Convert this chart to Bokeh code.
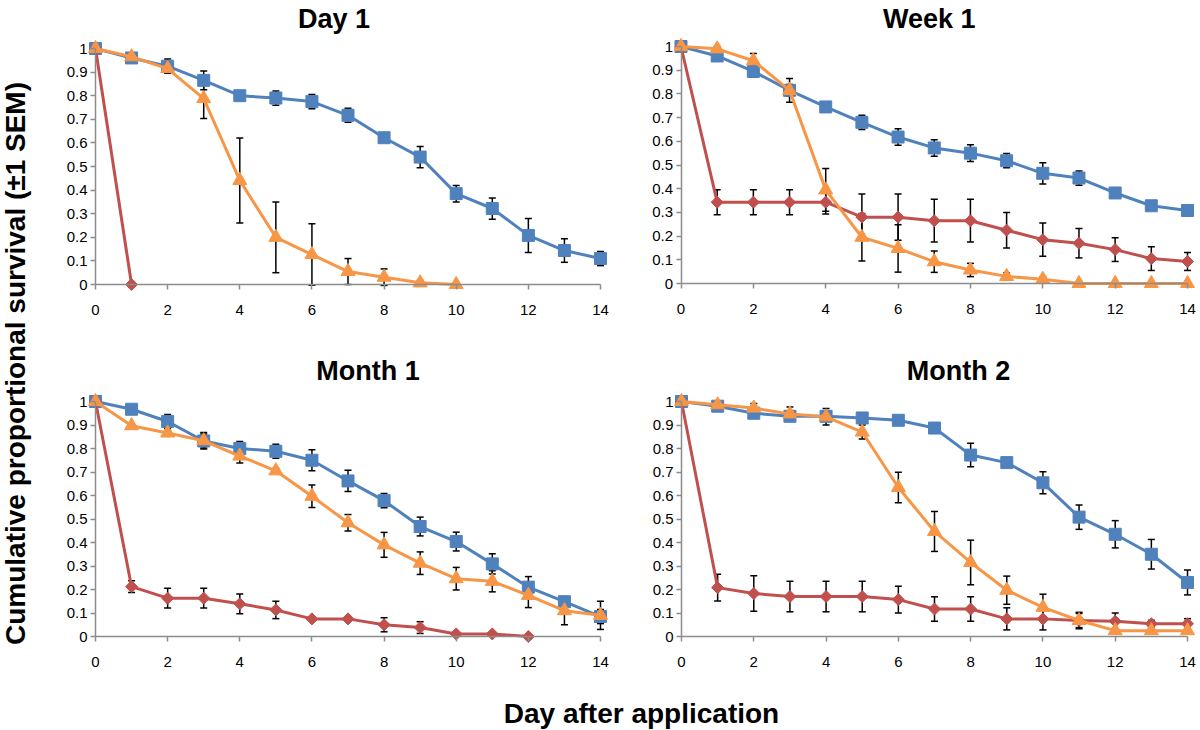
import math
from bokeh.plotting import figure
from bokeh.models import ColumnDataSource, Whisker, TeeHead, FixedTicker, Range1d, Label
from bokeh.layouts import row, column
from bokeh.embed import file_html
from bokeh.resources import INLINE

# ---------------- data ----------------
days = list(range(15))
panel_titles = ["Day 1", "Week 1", "Month 1", "Month 2"]
x_ticks = [0, 2, 4, 6, 8, 10, 12, 14]
y_ticks = [round(i * 0.1, 1) for i in range(11)]

d1_blue = [1.0, 0.96, 0.925, 0.865, 0.80, 0.79, 0.775, 0.717, 0.622, 0.54, 0.385, 0.322, 0.208, 0.144, 0.11]
d1_blue_err = [0, 0.01, 0.03, 0.04, 0.015, 0.03, 0.03, 0.03, 0.015, 0.045, 0.035, 0.045, 0.072, 0.05, 0.03]
d1_red_days = [0, 1]
d1_red = [1.0, 0.0]
d1_red_err = [0, 0]
d1_orange_days = list(range(11))
d1_orange = [1.0, 0.965, 0.915, 0.788, 0.441, 0.20, 0.127, 0.055, 0.031, 0.007, 0.0]
d1_orange_err = [0, 0.01, 0.015, 0.085, 0.18, 0.15, 0.13, 0.055, 0.035, 0.01, 0]

w1_blue = [1.0, 0.96, 0.895, 0.815, 0.745, 0.68, 0.618, 0.572, 0.55, 0.518, 0.465, 0.445, 0.382, 0.328, 0.308]
w1_blue_err = [0, 0.01, 0.025, 0.025, 0.01, 0.03, 0.035, 0.035, 0.035, 0.03, 0.045, 0.03, 0.015, 0.015, 0.015]
w1_red = [1.0, 0.343, 0.343, 0.343, 0.343, 0.28, 0.28, 0.265, 0.265, 0.225, 0.185, 0.17, 0.143, 0.105, 0.093]
w1_red_err = [0, 0.053, 0.053, 0.053, 0.05, 0.098, 0.098, 0.09, 0.09, 0.075, 0.07, 0.062, 0.05, 0.05, 0.038]
w1_orange = [1.0, 0.99, 0.94, 0.815, 0.395, 0.195, 0.148, 0.092, 0.057, 0.03, 0.018, 0, 0, 0, 0]
w1_orange_err = [0, 0.01, 0.03, 0.05, 0.09, 0.1, 0.1, 0.045, 0.028, 0.015, 0.01, 0, 0, 0, 0]

m1_blue = [1.0, 0.967, 0.915, 0.832, 0.80, 0.788, 0.75, 0.662, 0.578, 0.468, 0.404, 0.309, 0.21, 0.148, 0.085]
m1_blue_err = [0, 0.01, 0.03, 0.03, 0.03, 0.03, 0.045, 0.045, 0.03, 0.04, 0.04, 0.043, 0.045, 0.02, 0.03]
m1_red_days = list(range(13))
m1_red = [1.0, 0.212, 0.163, 0.163, 0.139, 0.113, 0.075, 0.075, 0.05, 0.038, 0.011, 0.011, 0.0]
m1_red_err = [0, 0.025, 0.042, 0.042, 0.042, 0.037, 0.008, 0.008, 0.03, 0.025, 0.005, 0.005, 0]
m1_orange = [1.0, 0.897, 0.866, 0.833, 0.768, 0.705, 0.597, 0.484, 0.39, 0.312, 0.246, 0.235, 0.175, 0.11, 0.09]
m1_orange_err = [0, 0.005, 0.01, 0.035, 0.03, 0.01, 0.048, 0.035, 0.053, 0.048, 0.048, 0.045, 0.052, 0.06, 0.06]

m2_blue = [1.0, 0.98, 0.95, 0.937, 0.937, 0.93, 0.92, 0.887, 0.772, 0.74, 0.654, 0.508, 0.435, 0.35, 0.23]
m2_blue_err = [0, 0.01, 0.015, 0.015, 0.02, 0.015, 0.015, 0.01, 0.05, 0.02, 0.047, 0.052, 0.058, 0.063, 0.053]
m2_red = [1.0, 0.208, 0.183, 0.17, 0.17, 0.17, 0.157, 0.117, 0.117, 0.075, 0.075, 0.068, 0.065, 0.054, 0.054]
m2_red_err = [0, 0.057, 0.076, 0.065, 0.065, 0.065, 0.057, 0.052, 0.052, 0.047, 0.047, 0.03, 0.035, 0.015, 0.022]
m2_orange = [1.0, 0.986, 0.972, 0.947, 0.935, 0.87, 0.634, 0.447, 0.315, 0.197, 0.124, 0.068, 0.025, 0.025, 0.025]
m2_orange_err = [0, 0.01, 0.02, 0.03, 0.035, 0.03, 0.065, 0.085, 0.095, 0.06, 0.056, 0.035, 0.005, 0.005, 0.005]

y_title = "Cumulative proportional survival (\u00b11 SEM)"
x_title = "Day after application"

# ---------------- style ----------------
BLUE = "#4F81BD"
RED = "#C0504D"
ORANGE = "#F79646"
AXIS = "#8C8C8C"
FONT = "Liberation Sans"


def add_series(p, x, y, err, color, marker, size, angle=0.0):
    src = ColumnDataSource(dict(x=x, y=y))
    ex = [a for a, e in zip(x, err) if e > 0]
    lo = [v - e for v, e in zip(y, err) if e > 0]
    hi = [v + e for v, e in zip(y, err) if e > 0]
    if ex:
        esrc = ColumnDataSource(dict(x=ex, lo=lo, hi=hi))
        w = Whisker(source=esrc, base="x", lower="lo", upper="hi",
                    line_color="black", line_width=1.5, level="underlay",
                    lower_head=TeeHead(size=7, line_color="black", line_width=1.5),
                    upper_head=TeeHead(size=7, line_color="black", line_width=1.5))
        p.add_layout(w)
    p.line("x", "y", source=src, line_color=color, line_width=3)
    p.scatter("x", "y", source=src, marker=marker, size=size, angle=angle,
              fill_color=color, line_color=color)


def make_panel(title, canvas_left, canvas_top, cw, ch, x0px, x14px, y1px, y0px, title_cy, title_dx):
    # the frame fills the whole canvas; axes are pinned at x=0 / y=0
    kx = (x14px - x0px) / 14.0
    ky = (y0px - y1px) / 1.0
    x_start = -(x0px - canvas_left) / kx
    x_end = 14 + (canvas_left + cw - x14px) / kx
    y_top = 1 + (y1px - canvas_top) / ky
    y_bot = -(canvas_top + ch - y0px) / ky
    p = figure(width=cw, height=ch, x_range=Range1d(x_start, x_end), y_range=Range1d(y_bot, y_top),
               min_border_left=0, min_border_right=0, min_border_top=0, min_border_bottom=0,
               toolbar_location=None, output_backend="svg")
    p.outline_line_color = None
    p.grid.visible = False
    for ax in (p.xaxis[0], p.yaxis[0]):
        ax.fixed_location = 0
        ax.axis_line_color = AXIS
        ax.axis_line_width = 1.5
        ax.major_tick_line_color = AXIS
        ax.major_tick_line_width = 1.5
        ax.major_tick_in = 0
        ax.major_tick_out = 5
        ax.minor_tick_line_color = None
        ax.major_label_text_font = FONT
        ax.major_label_text_font_size = "15px"
        ax.major_label_text_color = "black"
    p.xaxis[0].bounds = (0, 14)
    p.xaxis[0].ticker = FixedTicker(ticks=x_ticks)
    p.xaxis[0].major_label_standoff = 15
    p.yaxis[0].bounds = (0, 1)
    p.yaxis[0].ticker = FixedTicker(ticks=y_ticks)
    p.yaxis[0].major_label_standoff = 3
    p.yaxis[0].major_label_overrides = {0: "0", 1: "1"}
    p.add_layout(Label(x=7, y=1 + (y1px - title_cy) / ky, x_offset=title_dx, text=title,
                       text_align="center", text_baseline="middle",
                       text_font=FONT, text_font_style="bold",
                       text_font_size="27px", text_color="black"))
    return p


# page coordinates (the page has no margin): 1200 x 730
p1 = make_panel(panel_titles[0], 48, 0, 582, 340, 95, 600, 48, 284, 18, -14)
add_series(p1, days, d1_blue, d1_blue_err, BLUE, "square", 12)
add_series(p1, d1_red_days, d1_red, d1_red_err, RED, "square", 8.5, math.pi / 4)
add_series(p1, d1_orange_days, d1_orange, d1_orange_err, ORANGE, "triangle", 14)

p2 = make_panel(panel_titles[1], 630, 0, 570, 340, 680.5, 1187, 46, 283, 18, -5)
add_series(p2, days, w1_blue, w1_blue_err, BLUE, "square", 12)
add_series(p2, days, w1_red, w1_red_err, RED, "square", 8.5, math.pi / 4)
add_series(p2, days, w1_orange, w1_orange_err, ORANGE, "triangle", 14)

p3 = make_panel(panel_titles[2], 48, 340, 582, 348, 95, 600, 401, 636, 370, 20)
add_series(p3, days, m1_blue, m1_blue_err, BLUE, "square", 12)
add_series(p3, m1_red_days, m1_red, m1_red_err, RED, "square", 8.5, math.pi / 4)
add_series(p3, days, m1_orange, m1_orange_err, ORANGE, "triangle", 14)

p4 = make_panel(panel_titles[3], 630, 340, 570, 348, 681, 1187, 401, 636, 370, 24)
add_series(p4, days, m2_blue, m2_blue_err, BLUE, "square", 12)
add_series(p4, days, m2_red, m2_red_err, RED, "square", 8.5, math.pi / 4)
add_series(p4, days, m2_orange, m2_orange_err, ORANGE, "triangle", 14)

# y axis title
yf = figure(width=48, height=688, x_range=Range1d(0, 48), y_range=Range1d(0, 688),
            x_axis_type=None, y_axis_type=None, min_border=0,
            toolbar_location=None, output_backend="svg")
yf.outline_line_color = None
yf.grid.visible = False
yf.add_layout(Label(x=15, y=688 - 363, text=y_title, angle=math.pi / 2,
                    text_align="center", text_baseline="middle",
                    text_font=FONT, text_font_style="bold",
                    text_font_size="28px", text_color="black"))

# x axis title
xf = figure(width=1200, height=42, x_range=Range1d(0, 1200), y_range=Range1d(0, 42),
            x_axis_type=None, y_axis_type=None, min_border=0,
            toolbar_location=None, output_backend="svg")
xf.outline_line_color = None
xf.grid.visible = False
xf.add_layout(Label(x=641, y=17, text=x_title,
                    text_align="center", text_baseline="alphabetic",
                    text_font=FONT, text_font_style="bold",
                    text_font_size="28px", text_color="black"))

layout = column(row(yf, column(row(p1, p2), row(p3, p4))), xf)

open("out.html", "w").write(file_html(layout, INLINE))
